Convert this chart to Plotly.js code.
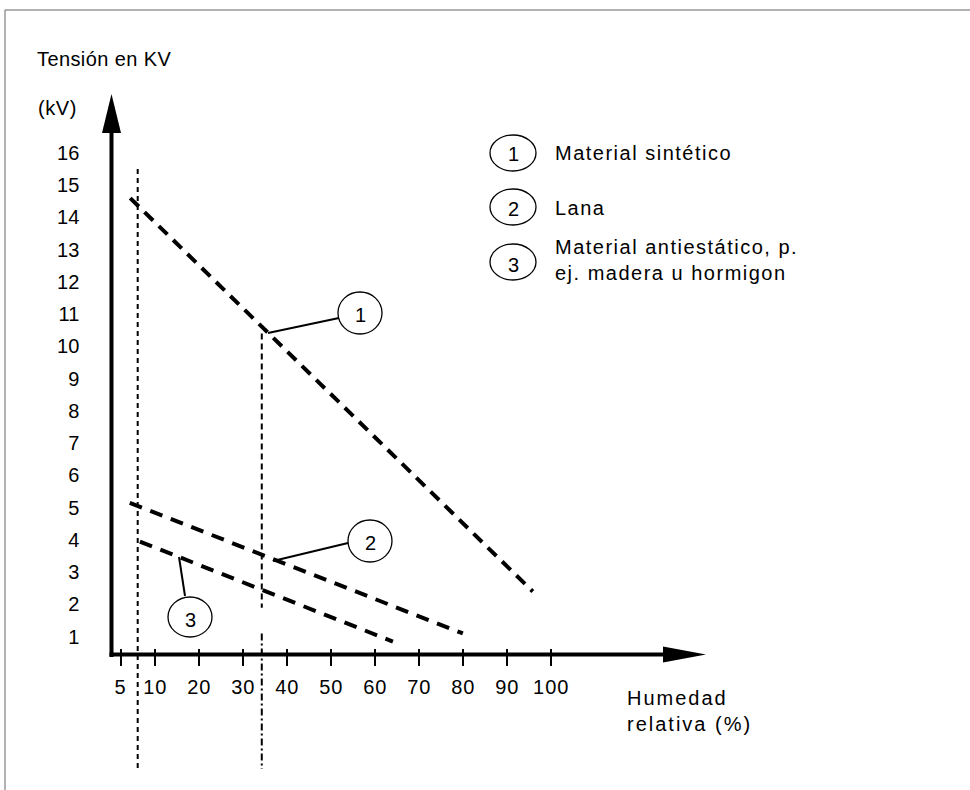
<!DOCTYPE html>
<html>
<head>
<meta charset="utf-8">
<script src="https://cdn.plot.ly/plotly-3.0.1.min.js"></script>
<style>
html, body { margin: 0; padding: 0; background: #fff; }
#chart { width: 970px; height: 790px; }
/* the reference text is slightly letter-spaced */
#chart .xtick text { letter-spacing: 1px; }
#chart .annotation[data-index="0"] text { letter-spacing: 0.4px; }
#chart .annotation[data-index="1"] text { letter-spacing: 0.6px; }
#chart .annotation[data-index="2"] text { letter-spacing: 2px; }
#chart .annotation[data-index="6"] text,
#chart .annotation[data-index="7"] text,
#chart .annotation[data-index="8"] text { letter-spacing: 1.5px; }
</style>
</head>
<body>
<div id="chart"></div>
<script>
// ---- data ----
const humidityTickPos = [2.1, 10, 20, 30, 40, 50, 60, 70, 80, 90, 100];
const humidityTickText = ["5", "10", "20", "30", "40", "50", "60", "70", "80", "90", "100"];
const voltageTicks = [1, 2, 3, 4, 5, 6, 7, 8, 9, 10, 11, 12, 13, 14, 15, 16];

const syntheticX = [4.3, 95.8];
const syntheticY = [14.6, 2.4];
const woolX = [4.2, 79.9];
const woolY = [5.15, 1.1];
const antistaticX = [6.5, 64.0];
const antistaticY = [3.95, 0.85];

const refLowX = [6.0, 6.0];
const refLowY = [15.5, -3.1];
const refMidX = [34.2, 34.2];
const refMidUpperY = [10.4, 1.9];
const refMidLowerY = [1.1, -3.1];

const legendLabels = ["Material sintético", "Lana", "Material antiestático, p.<br>ej. madera u hormigon"];
const seriesNumbers = ["1", "2", "3"];

// ---- pixel helpers for decorations ----
const PX0 = 111.3, PXS = 4.4, PY1 = 636.7, PYS = 32.25;
function X(px) { return (px - PX0) / PXS; }
function Y(py) { return 1 + (PY1 - py) / PYS; }

const FONT = "Liberation Sans, Arial, Helvetica, sans-serif";

function lineTrace(x, y, dash, width) {
  return { x: x, y: y, type: "scatter", mode: "lines", hoverinfo: "skip", showlegend: false,
           line: { color: "#000", width: width, dash: dash } };
}

const traces = [
  lineTrace(syntheticX, syntheticY, "12px,8px", 4),
  lineTrace(woolX, woolY, "13px,9px", 4),
  lineTrace(antistaticX, antistaticY, "13px,9px", 4),
  lineTrace(refLowX, refLowY, "5px,4px", 2),
  lineTrace(refMidX, refMidUpperY, "6px,4px", 2),
  lineTrace(refMidX, refMidLowerY, "7px,3px,2px,3px", 2)
];

function ellipse(cx, cy, rx, ry) {
  return { type: "circle", xref: "x", yref: "y", x0: X(cx - rx), x1: X(cx + rx), y0: Y(cy + ry), y1: Y(cy - ry),
           line: { color: "#000", width: 1.3 } };
}
function seg(x0, y0, x1, y1, w, c) {
  return { type: "line", xref: "x", yref: "y", x0: X(x0), y0: Y(y0), x1: X(x1), y1: Y(y1),
           line: { color: c || "#000", width: w } };
}

const shapes = [
  seg(5, 10, 975, 10, 1, "#666"),
  seg(5, 10, 5, 795, 1, "#666"),
  seg(111.5, 657, 111.5, 128, 4),
  seg(109.5, 654.5, 668, 654.5, 4),
  { type: "path", xref: "x", yref: "y", fillcolor: "#000", line: { width: 0 },
    path: "M" + X(111.5) + "," + Y(94) + " L" + X(102) + "," + Y(133) + " L" + X(121) + "," + Y(133) + " Z" },
  { type: "path", xref: "x", yref: "y", fillcolor: "#000", line: { width: 0 },
    path: "M" + X(706) + "," + Y(654.5) + " L" + X(663) + "," + Y(646.5) + " L" + X(663) + "," + Y(662.5) + " Z" },
  // legend circles
  ellipse(513, 153, 23, 18),
  ellipse(513, 207, 23, 18),
  ellipse(513, 262, 23, 18),
  // callouts
  ellipse(360, 313, 22, 21),
  seg(339, 318, 268, 333, 2),
  ellipse(370, 541, 22, 21),
  seg(348, 543, 273, 561, 2),
  ellipse(190, 617, 22, 20),
  seg(185, 596, 179, 557, 2)
];

function txt(text, px, py, anchor) {
  return { text: text, x: X(px), y: Y(py), xref: "x", yref: "y", showarrow: false,
           xanchor: anchor || "left", yanchor: "middle", align: "left",
           font: { family: FONT, size: 20, color: "#000" } };
}

const annotations = [
  txt("Tensión en KV", 35, 59),
  txt("(kV)", 36, 108),
  txt("Humedad<br>relativa (%)", 625, 711),
  txt(seriesNumbers[0], 513, 154, "center"),
  txt(seriesNumbers[1], 513, 209, "center"),
  txt(seriesNumbers[2], 513, 265, "center"),
  txt(legendLabels[0], 553, 153),
  txt(legendLabels[1], 553, 208),
  txt(legendLabels[2], 553, 260),
  txt(seriesNumbers[0], 360, 315, "center"),
  txt(seriesNumbers[1], 370, 543, "center"),
  txt(seriesNumbers[2], 190, 620, "center")
];

const layout = {
  width: 970, height: 790,
  margin: { l: 0, r: 0, t: 0, b: 0, pad: 0 },
  paper_bgcolor: "#fff", plot_bgcolor: "#fff",
  font: { family: FONT, size: 20, color: "#000" },
  showlegend: false,
  xaxis: {
    range: [X(0), X(970)], anchor: "free", position: (790 - 648) / 790,
    showgrid: false, zeroline: false, showline: false, automargin: false,
    tickmode: "array", tickvals: humidityTickPos, ticktext: humidityTickText,
    ticks: "outside", ticklen: 17, tickwidth: 2, tickcolor: "#000",
    ticklabelstandoff: 4,
    tickfont: { family: FONT, size: 20, color: "#000" }, fixedrange: true
  },
  yaxis: {
    range: [Y(790), Y(0)], anchor: "free", position: PX0 / 970,
    showgrid: false, zeroline: false, showline: false, automargin: false,
    tickmode: "array", tickvals: voltageTicks, ticks: "",
    ticklabelstandoff: 32,
    tickfont: { family: FONT, size: 20, color: "#000" }, fixedrange: true
  },
  shapes: shapes,
  annotations: annotations
};

Plotly.newPlot("chart", traces, layout, { displayModeBar: false, staticPlot: true });
</script>
</body>
</html>
